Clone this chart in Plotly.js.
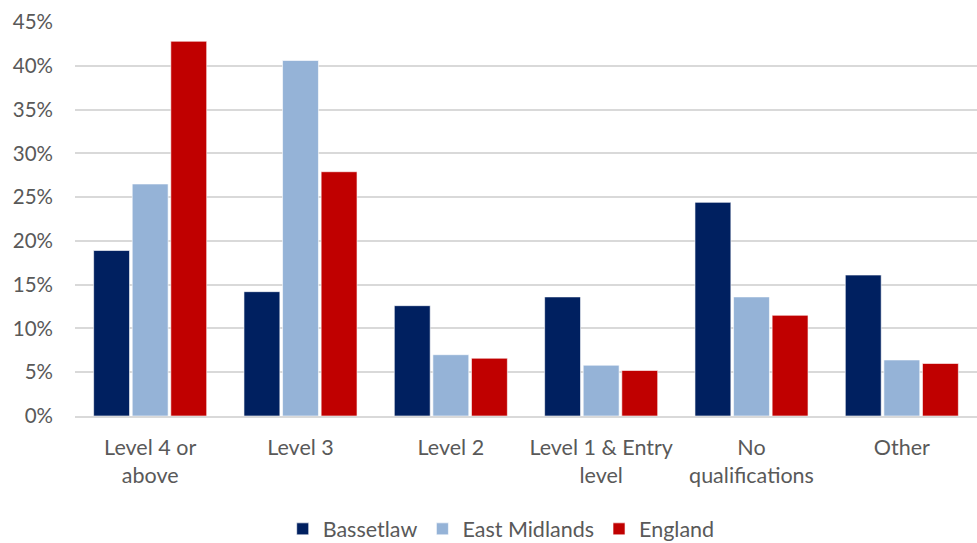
<!DOCTYPE html>
<html>
<head>
<meta charset="utf-8">
<script src="https://cdn.plot.ly/plotly-3.0.1.min.js"></script>
<style>
  html, body { margin: 0; padding: 0; background: #fff; }
  #chart { width: 977px; height: 543px; }
</style>
</head>
<body>
<div id="chart"></div>
<script>
// Highest qualification level, share of residents (%)
const categories = [
  "Level 4 or<br>above",
  "Level 3",
  "Level 2",
  "Level 1 & Entry<br>level",
  "No<br>qualifications",
  "Other"
];
const bassetlaw    = [18.9, 14.2, 12.6, 13.6, 24.4, 16.1];
const eastMidlands = [26.5, 40.6, 7.0, 5.8, 13.6, 6.4];
const england      = [42.8, 27.9, 6.6, 5.2, 11.5, 6.0];
const tickValues = [0, 5, 10, 15, 20, 25, 30, 35, 40, 45];
const tickLabels = tickValues.map(v => v + "%");

const FONT = "Lato, 'Open Sans', sans-serif";
const GREY = "#595959";

function series(name, values, color) {
  return {
    type: "bar",
    name: name,
    x: categories,
    y: values,
    marker: { color: color, line: { color: "rgba(255,255,255,0.6)", width: 1 } },
    hoverinfo: "skip"
  };
}

const data = [
  series("Bassetlaw", bassetlaw, "#002060"),
  series("East Midlands", eastMidlands, "#95B3D7"),
  series("England", england, "#C00000")
];

const layout = {
  width: 977,
  height: 543,
  margin: { l: 75, r: 0, t: 22, b: 127 },
  paper_bgcolor: "#ffffff",
  plot_bgcolor: "#ffffff",
  font: { family: FONT, size: 20, color: GREY },
  barmode: "group",
  bargap: 0.23,
  bargroupgap: 0.07,
  showlegend: true,
  legend: {
    orientation: "h",
    xref: "container",
    yref: "container",
    x: 0.513,
    xanchor: "center",
    y: 0.026,
    yanchor: "middle",
    font: { family: FONT, size: 21.5, color: GREY },
    itemwidth: 30,
    traceorder: "normal"
  },
  xaxis: {
    type: "category",
    showgrid: false,
    showline: true,
    linecolor: "#d9d9d9",
    linewidth: 2,
    ticks: "",
    ticklabelstandoff: 11,
    tickfont: { family: FONT, size: 21.5, color: GREY },
    fixedrange: true
  },
  yaxis: {
    range: [0, 45],
    tickvals: tickValues,
    ticktext: tickLabels,
    showgrid: true,
    gridcolor: "#d9d9d9",
    gridwidth: 2,
    zeroline: false,
    showline: false,
    ticks: "",
    ticklabelstandoff: 21,
    tickfont: { family: FONT, size: 20.5, color: GREY },
    fixedrange: true
  }
};

Plotly.newPlot("chart", data, layout, { displayModeBar: false, staticPlot: true });
</script>
</body>
</html>
